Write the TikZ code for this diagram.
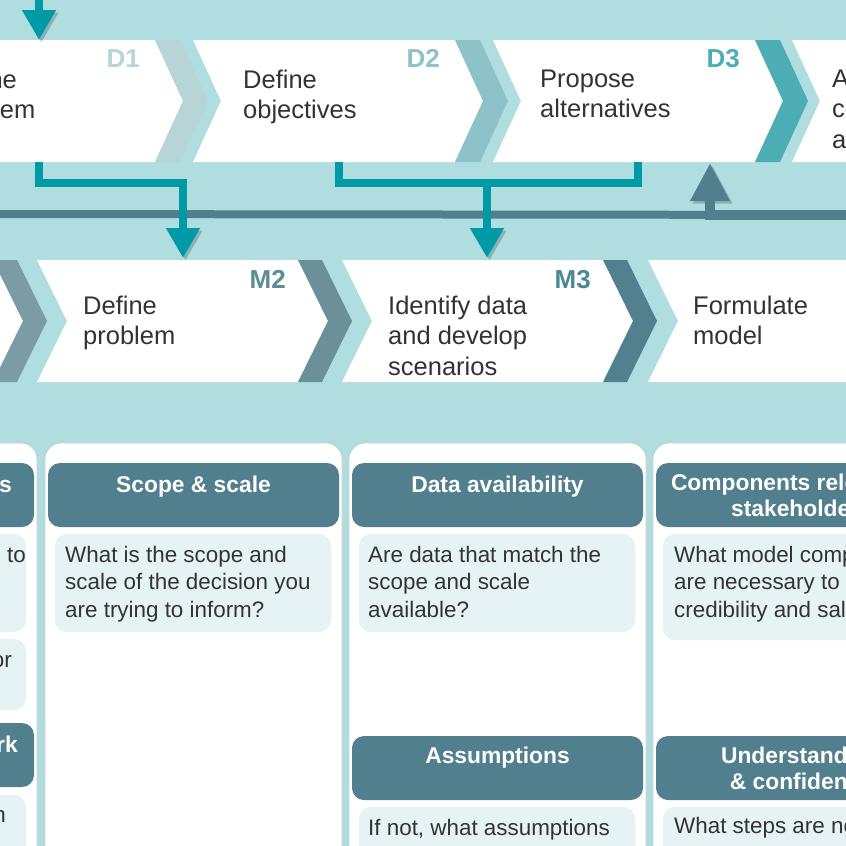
\documentclass[tikz,border=0pt]{standalone}
\usepackage{fontspec}
\setmainfont{Liberation Sans}
\usetikzlibrary{arrows.meta}

\definecolor{bgteal}{HTML}{B0DDE0}
\definecolor{arrteal}{HTML}{009AA6}
\definecolor{slate}{HTML}{517F8D}
\definecolor{qblue}{HTML}{E6F3F5}
\definecolor{txt}{HTML}{333333}
\definecolor{dA}{HTML}{B7D4D7}
\definecolor{dB}{HTML}{8DC3C8}
\definecolor{dC}{HTML}{4DADB5}
\definecolor{mA}{HTML}{7B9CA5}
\definecolor{mB}{HTML}{6B909A}
\definecolor{mC}{HTML}{52808E}
\definecolor{mlabB}{HTML}{5C8C97}
\definecolor{mlabC}{HTML}{4A8896}

\tikzset{
  steptext/.style={anchor=north west, align=left, inner sep=0pt, text=txt,
    font=\fontsize{25.5}{30.5}\selectfont, execute at begin node=\strut},
  steplabel/.style={anchor=base east, inner sep=0pt,
    font=\fontsize{26}{26}\selectfont\bfseries},
  panel/.style={fill=white, draw=black!20, line width=0.8pt, rounded corners=16pt},
  headbox/.style={fill=slate, rounded corners=12pt},
  headtext/.style={anchor=north, align=center, inner sep=0pt, text=white,
    font=\fontsize{22.8}{26.5}\selectfont\bfseries, execute at begin node=\strut},
  qbox/.style={fill=qblue, rounded corners=12pt},
  qtext/.style={anchor=north west, align=left, inner sep=0pt, text=txt,
    font=\fontsize{22.4}{27.5}\selectfont, execute at begin node=\strut},
  cuttext/.style={anchor=base east, inner sep=0pt},
  flow/.style={draw=arrteal, line width=8pt,
    preaction={draw=black, opacity=0.2, transform canvas={shift={(2.5pt,-2.5pt)}}}},
  fbline/.style={draw=slate, line width=8pt,
    preaction={draw=black, opacity=0.2, transform canvas={shift={(2.5pt,-2.5pt)}}}},
}

\begin{document}
\begin{tikzpicture}[x=1pt,y=-1pt]
\useasboundingbox (0,0) rectangle (846,846);
\clip (0,0) rectangle (846,846);
\fill[bgteal] (0,0) rectangle (846,846);

% decision steps
\foreach \x/\c in {-107/dA,193/dB,493/dC,792/dC} {
  \fill[white] (\x,40) -- ++(262,0) -- ++(28,61) -- ++(-28,61) -- ++(-262,0) -- ++(28,-61) -- cycle;
  \fill[\c] ({\x+262},40) -- ++(25,0) -- ++(28,61) -- ++(-28,61) -- ++(-25,0) -- ++(28,-61) -- cycle;
}
\node[steptext] (d1) at (-57,69.6) {Define\\problem};
\node[steptext] (d2) at (243,69.6) {Define\\objectives};
\node[steptext] (d3) at (540,69.6) {Propose\\alternatives};
\node[steptext] (d4) at (832,69.6) {Assess\\consequences\\and trade-offs};
\node[steplabel, text=dA] (d1lab) at (140,67) {D1};
\node[steplabel, text=dB] (d2lab) at (440,67) {D2};
\node[steplabel, text=dC] (d3lab) at (740,67) {D3};

% model steps
\foreach \x/\c in {-268/mA,37/mB,342/mC,648/mC} {
  \fill[white] (\x,260) -- ++(261,0) -- ++(30,61) -- ++(-30,61) -- ++(-261,0) -- ++(30,-61) -- cycle;
  \fill[\c] ({\x+261},260) -- ++(24,0) -- ++(30,61) -- ++(-30,61) -- ++(-24,0) -- ++(30,-61) -- cycle;
}
\node[steptext] (m2) at (83,295.4) {Define\\problem};
\node[steptext] (m3) at (388,295.4) {Identify data\\and develop\\scenarios};
\node[steptext] (m4) at (693,295.4) {Formulate\\model};
\node[steplabel, text=mlabB] (m2lab) at (286,288) {M2};
\node[steplabel, text=mlabC] (m3lab) at (591,288) {M3};

% connectors
\coordinate (topsrc) at (900,-4);
\coordinate (d1in) at (39,40);
\coordinate (d1out) at (39,162);
\coordinate (split1) at (183,183);
\coordinate (m2in) at (183,258);
\coordinate (d2out) at (339,162);
\coordinate (d3out) at (638,162);
\coordinate (split2) at (487,183);
\coordinate (m3in) at (487,258);
\coordinate (fbleft) at (-10,214);
\coordinate (fbright) at (900,215);
\coordinate (d3in) at (710,163);

\draw[fbline] (fbleft) -- (fbright);
\draw[fbline, line width=10pt, -{Triangle[width=37pt,length=38pt]}] (fbright) -| (d3in);
\draw[flow, -{Triangle[width=32pt,length=30pt]}] (topsrc) -| (d1in);
\draw[flow, -{Triangle[width=32pt,length=30pt]}] (d1out) |- (split1) -- (m2in);
\draw[flow] (d2out) |- (split2) -| (d3out);
\draw[flow, -{Triangle[width=32pt,length=30pt]}] (split2) -- (m3in);

% question panels
\foreach \x in {-260,45,349,653} {
  \draw[panel] (\x,443) rectangle ++(297,460);
  \fill[headbox] ({\x+3},463) rectangle ++(291,64);
}
\fill[qbox] (-250,534) rectangle ++(276,98);
\fill[qbox] (-250,639) rectangle ++(276,71);
\fill[headbox] (-257,723) rectangle ++(291,64);
\fill[qbox] (-250,795) rectangle ++(276,98);
\fill[qbox] (55,534) rectangle ++(276,98);
\fill[qbox] (359,534) rectangle ++(276,98);
\fill[headbox] (352,736) rectangle ++(291,64);
\fill[qbox] (359,807) rectangle ++(276,98);
\fill[qbox] (663,534) rectangle ++(276,106);
\fill[headbox] (656,736) rectangle ++(291,64);
\fill[qbox] (663,807) rectangle ++(276,98);

\node[headtext, cuttext] (h1) at (12,492) {Stakeholder needs};
\node[qtext, cuttext] (q1) at (26,562) {Who is the model useful to};
\node[qtext, cuttext] (q1b) at (12,667) {Is it for research or};
\node[headtext, cuttext] (h1b) at (18,752) {Framework};
\node[qtext, cuttext] (q1c) at (6,822) {What decision};

\node[headtext] (h2) at (193.5,473.4) {Scope \& scale};
\node[qtext] (q2) at (65,545.7) {What is the scope and\\scale of the decision you\\are trying to inform?};

\node[headtext] (h3) at (497.5,473.4) {Data availability};
\node[qtext] (q3) at (368,545.7) {Are data that match the\\scope and scale\\available?};
\node[headtext] (h3b) at (497.5,744.4) {Assumptions};
\node[qtext] (q3b) at (368,815.7) {If not, what assumptions};

\node[headtext] (h4) at (801.5,473.4) {Components relevant to\\stakeholders};
\node[qtext] (q4) at (674,545.7) {What model components\\are necessary to ensure\\credibility and salience?};
\node[headtext] (h4b) at (801.5,746.4) {Understanding\\\& confidence};
\node[qtext] (q4b) at (674,813.7) {What steps are needed};

\end{tikzpicture}
\end{document}
